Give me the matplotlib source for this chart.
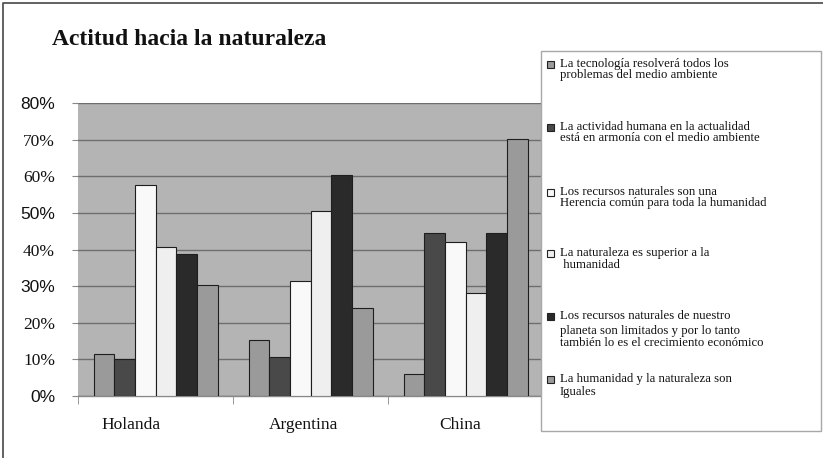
import matplotlib
matplotlib.use("Agg")
import matplotlib.pyplot as plt
import matplotlib.transforms as mtransforms
from matplotlib.patches import Rectangle
from matplotlib.lines import Line2D
import numpy as np

W, H, DPI = 823, 458, 100

# ---- data -------------------------------------------------------------
countries = ["Holanda", "Argentina", "China"]

tecnologia = [11.5, 15.3, 6.0]
actividad = [10.1, 10.7, 44.6]
herencia = [57.5, 31.3, 42.0]
superior = [40.6, 50.5, 28.1]
limitados = [38.8, 60.3, 44.6]
iguales = [30.2, 24.0, 70.3]
series_values = [tecnologia, actividad, herencia, superior, limitados, iguales]

series_labels = [
    ["La tecnología resolverá todos los", "problemas del medio ambiente"],
    ["La actividad humana en la actualidad", "está en armonía con el medio ambiente"],
    ["Los recursos naturales son una", "Herencia común para toda la humanidad"],
    ["La naturaleza es superior a la", " humanidad"],
    ["Los recursos naturales de nuestro", "planeta son limitados y por lo tanto",
     "también lo es el crecimiento económico"],
    ["La humanidad y la naturaleza son", "Iguales"],
]

y_ticks = [0, 10, 20, 30, 40, 50, 60, 70, 80]
y_tick_labels = ["0%", "10%", "20%", "30%", "40%", "50%", "60%", "70%", "80%"]

title = "Actitud hacia la naturaleza"

# ---- styling ------------------------------------------------------------
colors = ["#9a9a9a", "#494949", "#f9f9f9", "#efefef", "#2a2a2a", "#9a9a9a"]
SERIF = "Liberation Serif"
SANS = "Liberation Sans"
ytick_fonts = [SANS, SERIF, SERIF, SANS, SERIF, SANS, SERIF, SERIF, SANS]
xlabel_shift_px = [-24, -7, -5]


def fx(x):
    return x / W


def fy(y):
    return 1 - y / H


fig = plt.figure(figsize=(W / DPI, H / DPI), dpi=DPI)
fig.patch.set_facecolor("white")

# plot area
ax_l, ax_r, ax_t, ax_b = 78, 543, 103, 396
ax = fig.add_axes([fx(ax_l), fy(ax_b), fx(ax_r) - fx(ax_l), fy(ax_t) - fy(ax_b)])
ax.set_facecolor("#b4b4b4")

n = len(series_values)
width = 1 / 7.5
x = np.arange(len(countries))
for i, (vals, col) in enumerate(zip(series_values, colors)):
    offs = (i - (n - 1) / 2) * width
    ax.bar(x + offs, vals, width=width, color=col, edgecolor="#1e1e1e",
           linewidth=0.8, zorder=3)

ax.set_xlim(-0.5, len(countries) - 0.5)
ax.set_ylim(0, 80)

ax.set_yticks(y_ticks)
ax.set_yticklabels(y_tick_labels)
ax.yaxis.grid(True, color="#6e6e6e", linewidth=1.0, zorder=1)
ax.tick_params(axis="y", length=4.5, color="#888888", pad=12, labelsize=12.5,
               labelcolor="#111111")

ax.set_xticks(x)
ax.set_xticklabels(countries, fontfamily=SERIF, fontsize=12.5, color="#111111")
ax.set_xticks(np.arange(-0.5, len(countries), 1.0), minor=True)
ax.tick_params(axis="x", which="major", length=0, pad=15)
ax.tick_params(axis="x", which="minor", length=6, color="#888888")

for side in ["left", "right", "top"]:
    ax.spines[side].set_visible(False)
ax.spines["bottom"].set_color("#888888")
ax.spines["bottom"].set_linewidth(1.0)

# title
fig.text(fx(52), fy(45), title, fontfamily=SERIF, fontweight="bold",
         fontsize=17, va="baseline", ha="left", color="#111111")

# outer frame (top and left edges)
fig.add_artist(Line2D([fx(3), fx(3), fx(W)], [fy(H), fy(3), fy(3)],
                      transform=fig.transFigure, color="#555555", linewidth=1.3))

# legend box
lg_l, lg_t, lg_r, lg_b = 541, 51, 821, 431
fig.add_artist(Rectangle((fx(lg_l), fy(lg_b)), fx(lg_r) - fx(lg_l), fy(lg_t) - fy(lg_b),
                         transform=fig.transFigure, facecolor="white",
                         edgecolor="#a8a8a8", linewidth=1.0, zorder=5))

line_rows = [[64, 75], [127, 138], [192, 203], [253, 265], [316, 331, 343], [379, 392]]
sq = 7
for lines, rows, col in zip(series_labels, line_rows, colors):
    fig.add_artist(Rectangle((fx(547), fy(rows[0] + sq / 2)), sq / W, sq / H,
                             transform=fig.transFigure, facecolor=col,
                             edgecolor="#222222", linewidth=0.8, zorder=6))
    for txt, yy in zip(lines, rows):
        fig.text(fx(560), fy(yy), txt, fontfamily=SERIF, fontsize=9.2,
                 va="center", ha="left", color="#111111", zorder=6)

# per-label fonts and offsets, applied once the ticks exist
fig.canvas.draw()
for tick, fam in zip(ax.yaxis.get_major_ticks(), ytick_fonts):
    tick.label1.set_fontfamily(fam)
for tick, dx in zip(ax.xaxis.get_major_ticks(), xlabel_shift_px):
    lab = tick.label1
    lab.set_transform(lab.get_transform() +
                      mtransforms.ScaledTranslation(dx / DPI, 0, fig.dpi_scale_trans))

fig.savefig("out.png", dpi=DPI)
